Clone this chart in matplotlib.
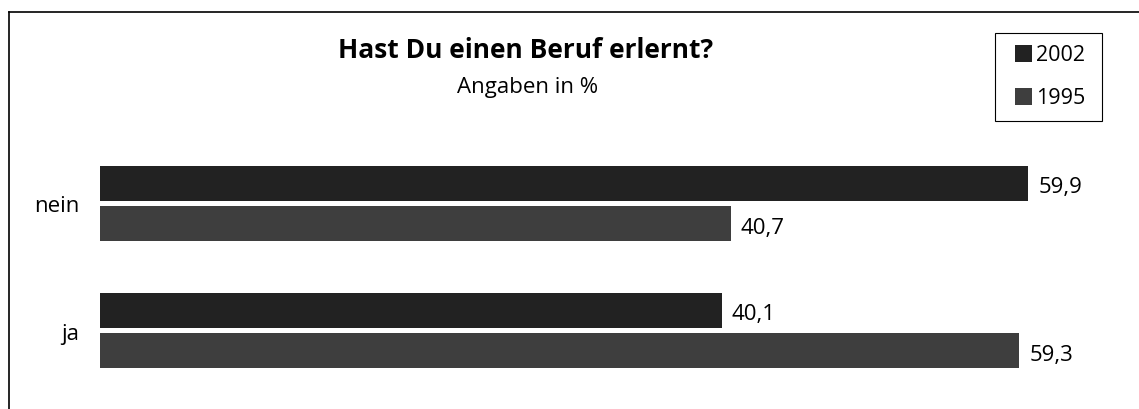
import matplotlib
matplotlib.use('Agg')
import matplotlib.pyplot as plt
from matplotlib.lines import Line2D
from matplotlib.patches import Rectangle
import numpy as np

plt.rcParams['font.family'] = ['Open Sans', 'DejaVu Sans']

# data
categories = ['nein', 'ja']
years = ['2002', '1995']
values_2002 = [59.9, 40.1]
values_1995 = [40.7, 59.3]
colors = ['#222222', '#3e3e3e']

title = 'Hast Du einen Beruf erlernt?'
subtitle = 'Angaben in %'

W, H = 1139, 410
fig = plt.figure(figsize=(W / 100, H / 100), dpi=100)

# axes placed in pixel units (top 141.5 px, bottom 401.5 px)
ax = fig.add_axes([100 / W, (H - 401.5) / H, 1023 / W, 260 / H])

y = np.arange(len(categories))
bh = 0.276
off = 0.161
ax.barh(y - off, values_2002, height=bh, color=colors[0], label=years[0])
ax.barh(y + off, values_1995, height=bh, color=colors[1], label=years[1])

for yi, v in zip(y - off, values_2002):
  ax.text(v + 0.65, yi + 0.03, f'{v:.1f}'.replace('.', ','), va='center', ha='left', fontsize=16)
for yi, v in zip(y + off, values_1995):
  ax.text(v + 0.65, yi + 0.03, f'{v:.1f}'.replace('.', ','), va='center', ha='left', fontsize=16)

ax.set_xlim(0, 66)
ax.set_ylim(1.551, -0.496)
ax.set_yticks(y)
ax.set_yticklabels(categories, fontsize=16)
ax.tick_params(axis='y', length=0, pad=15)
ax.set_xticks([])
for s in ax.spines.values():
  s.set_visible(False)

# titles
fig.text(526 / W, 1 - 51 / H, title, ha='center', va='center', fontsize=19, fontweight='bold')
fig.text(528 / W, 1 - 88 / H, subtitle, ha='center', va='center', fontsize=16)

# legend box drawn by hand so it keeps the reference size
fig.add_artist(Rectangle((995 / W, 1 - 122 / H), 107 / W, 88 / H, transform=fig.transFigure,
                         facecolor='white', edgecolor='black', lw=0.8))
for i, (yr, c) in enumerate(zip(years, colors)):
  yc = 54.5 + i * 43
  fig.add_artist(Rectangle((1015 / W, 1 - (yc + 8.5) / H), 17 / W, 17 / H,
                           transform=fig.transFigure, facecolor=c, edgecolor='none'))
  fig.text(1036 / W, 1 - (yc + 1) / H, yr, ha='left', va='center', fontsize=15.5)

# outer frame (left and top only visible)
fig.add_artist(Line2D([8.5 / W, 8.5 / W], [0, 1 - 13 / H], color='black', lw=1.2, transform=fig.transFigure))
fig.add_artist(Line2D([8.5 / W, 1], [1 - 13 / H, 1 - 13 / H], color='black', lw=1.2, transform=fig.transFigure))

fig.savefig('out.png', dpi=100)
